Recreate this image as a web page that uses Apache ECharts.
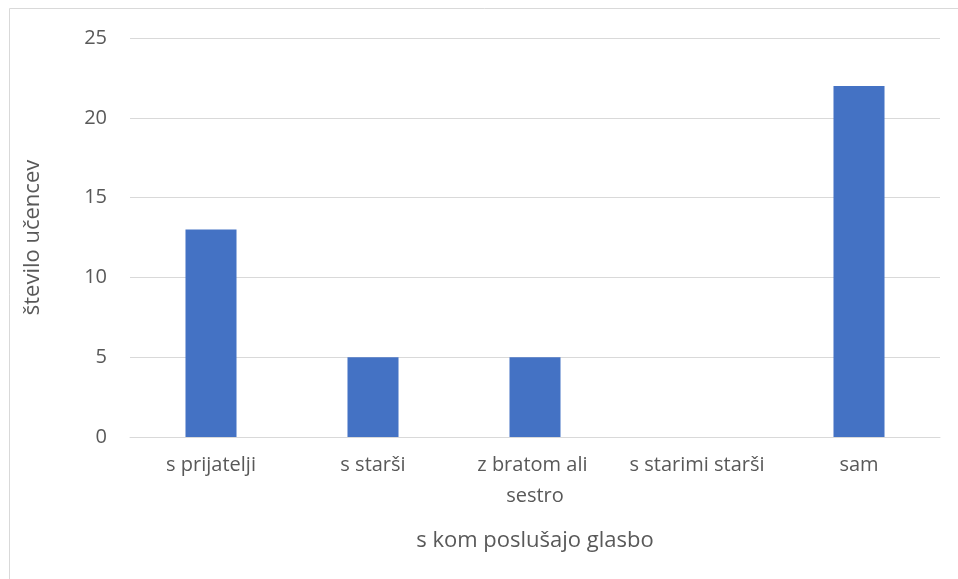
<!DOCTYPE html>
<html>
<head>
<meta charset="UTF-8">
<title></title>
<script src="https://cdn.jsdelivr.net/npm/echarts@6/dist/echarts.min.js"></script>
<style>
  html, body { margin: 0; padding: 0; background: #fff; }
</style>
</head>
<body>
<div id="main" style="width: 958px;height:579px;"></div>
<script type="text/javascript">
var categories = ['s prijatelji', 's starši', 'z bratom ali sestro', 's starimi starši', 'sam'];
var values = [13, 5, 5, 0, 22];
var yTicks = [0, 5, 10, 15, 20, 25];

var textColor = '#595959';
var fontFam = '"Open Sans", "Noto Sans", sans-serif';

var myChart = echarts.init(document.getElementById('main'));
var option = {
    backgroundColor: '#fff',
    animation: false,
    textStyle: { fontFamily: fontFam },
    graphic: [{
        type: 'rect',
        shape: { x: 9.5, y: 8.5, width: 1000, height: 1000 },
        style: { fill: 'none', stroke: '#d9d9d9', lineWidth: 1 },
        silent: true
    }],
    grid: {
        left: 130,
        right: 18,
        top: 38,
        bottom: 142
    },
    xAxis: {
        type: 'category',
        data: categories,
        name: 's kom poslušajo glasbo',
        nameLocation: 'middle',
        nameGap: 93,
        nameTextStyle: { color: textColor, fontSize: 22, fontFamily: fontFam },
        axisLine: { lineStyle: { color: '#d9d9d9', width: 1 } },
        axisTick: { show: false },
        axisLabel: {
            color: textColor,
            fontSize: 20,
            fontFamily: fontFam,
            margin: 13,
            width: 150,
            overflow: 'break',
            lineHeight: 31,
            interval: 0
        }
    },
    yAxis: {
        type: 'value',
        min: yTicks[0],
        max: yTicks[yTicks.length - 1],
        interval: yTicks[1] - yTicks[0],
        name: 'število učencev',
        nameLocation: 'middle',
        nameGap: 86,
        nameTextStyle: { color: textColor, fontSize: 22, fontFamily: fontFam },
        axisLine: { show: false },
        axisTick: { show: false },
        axisLabel: { color: textColor, fontSize: 20, fontFamily: fontFam, margin: 23 },
        splitLine: { lineStyle: { color: '#d9d9d9', width: 1 } }
    },
    series: [{
        name: 'število učencev',
        type: 'bar',
        barWidth: '31.5%',
        itemStyle: { color: '#4472c4' },
        data: values
    }]
};
myChart.setOption(option);
</script>
</body>
</html>
